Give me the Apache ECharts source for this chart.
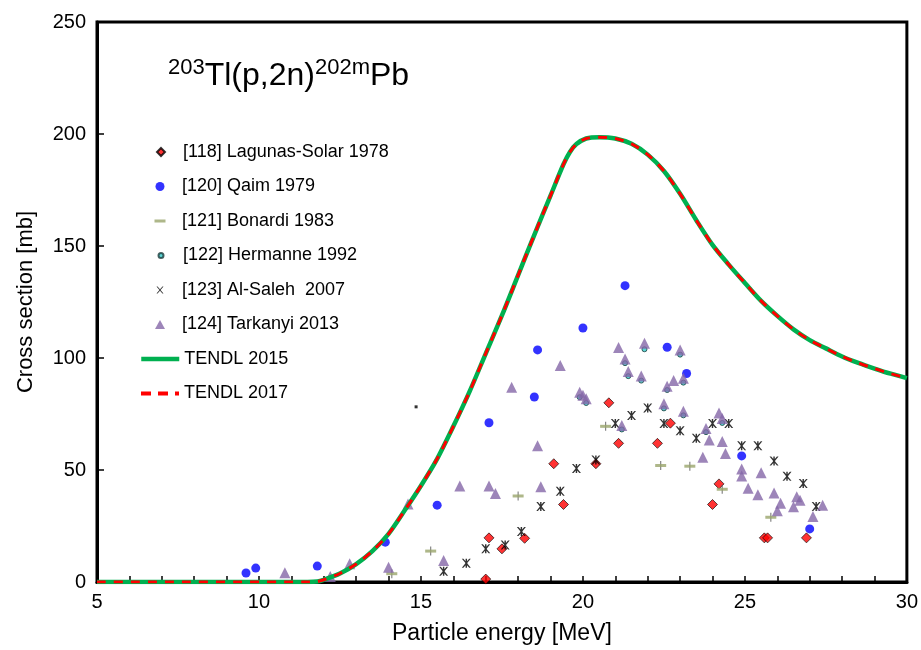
<!DOCTYPE html>
<html>
<head>
<meta charset="utf-8">
<script src="https://cdn.jsdelivr.net/npm/echarts@6/dist/echarts.min.js"></script>
<style>
html,body{margin:0;padding:0;background:#fff;}
#chart{width:921px;height:650px;}
</style>
</head>
<body>
<div id="chart"></div>
<script>
// ---- data (energy MeV, cross section mb) ----
const lagunasSolar = [[17.0,1.3],[17.1,19.7],[17.5,14.8],[18.2,19.5],[19.1,52.8],[19.4,34.6],[20.4,52.8],[20.8,80],[21.1,61.9],[22.3,61.9],[22.7,70.9],[24.0,34.6],[24.2,43.8],[25.6,19.7],[25.7,19.7],[26.9,19.7]];
const qaim = [[9.6,4.0],[9.9,6.2],[11.8,7.1],[13.9,17.8],[15.5,34.3],[17.1,71.1],[18.5,82.6],[18.6,103.6],[20.0,113.4],[21.3,132.3],[22.6,104.8],[23.2,93.1],[24.9,56.3],[27.0,23.7]];
const bonardi = [[14.1,3.7],[15.3,13.8],[18.0,38.4],[20.7,69.5],[22.4,52.0],[23.3,51.7],[24.3,41.4],[25.8,28.9]];
const hermanne = [[19.9,82.5],[20.1,79.9],[21.2,68.1],[21.3,97.7],[21.4,91.9],[21.8,89.9],[21.9,103.9],[22.5,77.5],[22.6,85.7],[23.0,101.5],[23.1,74.4],[23.1,89.0],[23.8,66.9],[24.3,71.0]];
const alSaleh = [[15.7,4.8],[16.4,8.4],[17.0,14.8],[17.6,16.5],[18.1,22.5],[18.7,33.7],[19.3,40.5],[19.8,50.7],[20.4,54.5],[21.0,70.8],[21.5,74.3],[22.0,77.7],[22.5,70.8],[23.0,67.5],[23.5,64.2],[24.0,70.8],[24.5,70.8],[24.9,60.8],[25.4,60.8],[25.9,54.0],[26.3,47.2],[26.8,44.0],[27.2,33.7]];
const tarkanyi = [[10.8,4.1],[12.2,2.5],[12.8,8.2],[14.0,6.6],[14.6,34.8],[15.7,9.6],[16.2,42.9],[17.1,42.9],[17.3,39.5],[17.8,86.9],[18.6,60.8],[18.7,42.5],[19.3,96.7],[19.9,84.7],[20.0,83.4],[20.1,81.8],[21.1,104.7],[21.2,69.9],[21.3,99.5],[21.4,94.0],[21.8,92.0],[21.9,106.6],[22.5,79.6],[22.6,87.4],[22.8,90.0],[23.0,103.6],[23.1,91.0],[23.1,76.2],[23.7,55.7],[23.8,68.5],[23.9,63.4],[24.2,75.4],[24.3,73.0],[24.3,62.7],[24.4,57.4],[24.9,50.4],[24.9,47.3],[25.1,41.8],[25.4,39.0],[25.5,48.8],[25.9,39.7],[26.0,31.8],[26.1,35.2],[26.5,33.6],[26.6,38.1],[26.7,36.5],[27.1,29.2],[27.4,34.3]];
const strayMark = [[14.85,78.2]];
const tendl2015 = [[5,0],[11.5,0],[11.8,0.2],[12.0,1],[12.5,3.8],[13.0,8],[13.5,13.8],[14.0,21.5],[14.5,32],[15.0,43],[15.5,55],[16.0,69.5],[16.5,85],[17.0,102],[17.5,119],[18.0,137],[18.5,155],[19.0,172.5],[19.4,186.5],[19.6,192],[19.8,195.5],[20.1,198],[20.5,198.6],[21.0,198],[21.5,195.6],[22.0,190.8],[22.5,183.5],[23.0,173.3],[23.5,161.5],[24.0,150.5],[24.5,141.7],[25.0,133.5],[25.5,125.5],[26.0,118.8],[26.5,112.8],[27.0,108],[27.5,104.3],[28.0,100.7],[28.5,97.8],[29.0,95.3],[29.5,93],[30,91]];
const tendl2017 = tendl2015.slice();
const xTicks = [5,10,15,20,25,30];
const yTicks = [0,50,100,150,200,250];
const names = ['[118] Lagunas-Solar 1978','[120] Qaim 1979','[121] Bonardi 1983','[122] Hermanne 1992','[123] Al-Saleh  2007','[124] Tarkanyi 2013','TENDL 2015','TENDL 2017'];

const FONT = 'Liberation Sans, Arial, sans-serif';
const asteriskPath = 'path://M0,0L1.8,0L5,3.6L8.2,0L10,0L6.2,4.6L6.2,5.4L10,10L8.2,10L5,6.4L1.8,10L0,10L3.8,5.4L3.8,4.6Z M4.2,0H5.8V10H4.2Z';
const crossPath = 'path://M0,0L1.5,0L5,4.1L8.5,0L10,0L5.8,5L10,10L8.5,10L5,5.9L1.5,10L0,10L4.2,5Z';

const legendSpec = [
  {icon:'diamond', w:8, h:8},
  {icon:'circle', w:9, h:9},
  {icon:'rect', w:11, h:3},
  {icon:'circle', w:5, h:5},
  {icon:crossPath, w:7, h:7},
  {icon:'triangle', w:10, h:9},
  {line:true, w:38, h:10, lineStyle:{color:'#00b050', width:4.5, type:'solid'}},
  {line:true, w:38, h:10, lineStyle:{color:'#ff0000', width:4, type:[10,7]}}
];
const rowY0 = 152, rowStep = 34.5;
const legends = names.map((n,i)=>{
  const s = legendSpec[i];
  const left = s.line ? 139 : 160 - s.w/2;
  const d = s.icon ? {name:n, icon:s.icon} : {name:n};
  const gap = s.line ? 4 : 182 - (left + s.w);
  const lg = {
    data:[d], left:left, top: rowY0 + i*rowStep - 9, orient:'vertical',
    itemWidth:s.w, itemHeight:s.h, itemGap:0, padding:0,
    selectedMode:false,
    textStyle:{fontSize:18, lineHeight:18, fontFamily:FONT, color:'#000', padding:[0,0,0,Math.max(0, gap-5)]}
  };
  if (s.line) { lg.itemStyle = {opacity:0}; lg.lineStyle = s.lineStyle; }
  return lg;
});

const chart = echarts.init(document.getElementById('chart'), null, {renderer:'canvas'});
chart.setOption({
  animation:false,
  backgroundColor:'#fff',
  title:{
    text:'{sup|203}{main|Tl(p,2n)}{sup|202m}{main|Pb}',
    left:168, top:57, padding:0,
    textStyle:{
      fontWeight:'normal',
      rich:{
        main:{fontSize:32, lineHeight:38, fontFamily:FONT, fontWeight:'normal', color:'#000'},
        sup:{fontSize:22, lineHeight:29, verticalAlign:'top', fontFamily:FONT, fontWeight:'normal', color:'#000'}
      }
    }
  },
  legend: legends,
  grid:{left:97, right:13, top:22, bottom:65, show:true, borderColor:'#000', borderWidth:3, backgroundColor:'transparent'},
  xAxis:{
    type:'value', min:xTicks[0], max:xTicks[xTicks.length-1], interval:5,
    name:'Particle energy [MeV]', nameLocation:'middle', nameGap:40,
    nameTextStyle:{fontSize:23, fontFamily:FONT, color:'#000'},
    axisLine:{show:true, lineStyle:{color:'#000', width:3}},
    axisTick:{show:true, inside:true, length:6, lineStyle:{color:'#000', width:1.5}},
    minorTick:{show:true, splitNumber:5, length:6, lineStyle:{color:'#000', width:1.5}},
    axisLabel:{fontSize:20, fontFamily:FONT, color:'#000', margin:10},
    splitLine:{show:false}
  },
  yAxis:{
    type:'value', min:yTicks[0], max:yTicks[yTicks.length-1], interval:50,
    name:'Cross section [mb]', nameLocation:'middle', nameGap:60,
    nameTextStyle:{fontSize:22, fontFamily:FONT, color:'#000'},
    axisLine:{show:true, lineStyle:{color:'#000', width:3}},
    axisTick:{show:true, inside:true, length:7, lineStyle:{color:'#000', width:1.5}},
    axisLabel:{fontSize:20, fontFamily:FONT, color:'#000', margin:11},
    splitLine:{show:false}
  },
  series:[
    {name:names[0], type:'scatter', data:lagunasSolar, symbol:'diamond', symbolSize:10,
     itemStyle:{color:'#ff0000', borderColor:'#000', borderWidth:0.8}},
    {name:names[1], type:'scatter', data:qaim, symbol:'circle', symbolSize:9,
     itemStyle:{color:'#0000ff'}},
    {name:'bonardiStem', type:'scatter', data:bonardi, symbol:'rect', symbolSize:[1.2,9],
     itemStyle:{color:'#666'}, silent:true},
    {name:names[2], type:'scatter', data:bonardi, symbol:'rect', symbolSize:[11,3],
     itemStyle:{color:'#9aa56c'}},
    {name:names[3], type:'scatter', data:hermanne, symbol:'circle', symbolSize:5,
     itemStyle:{color:'#33c9c9', borderColor:'#1b3b3b', borderWidth:1}},
    {name:names[4], type:'scatter', data:alSaleh, symbol:asteriskPath, symbolSize:9,
     itemStyle:{color:'#000'}},
    {name:names[5], type:'scatter', data:tarkanyi, symbol:'triangle', symbolSize:11,
     itemStyle:{color:'#8566a8'}},
    {name:'stray', type:'scatter', data:strayMark, symbol:'rect', symbolSize:3,
     itemStyle:{color:'#000'}, silent:true},
    {name:names[6], type:'line', data:tendl2015, smooth:0.3, symbol:'none',
     lineStyle:{color:'#00b050', width:4.5}, itemStyle:{color:'#00b050'}},
    {name:names[7], type:'line', data:tendl2017, smooth:0.3, symbol:'none',
     lineStyle:{color:'#ff0000', width:3, type:[9,8]}, itemStyle:{color:'#ff0000'}}
  ]
});
</script>
</body>
</html>
